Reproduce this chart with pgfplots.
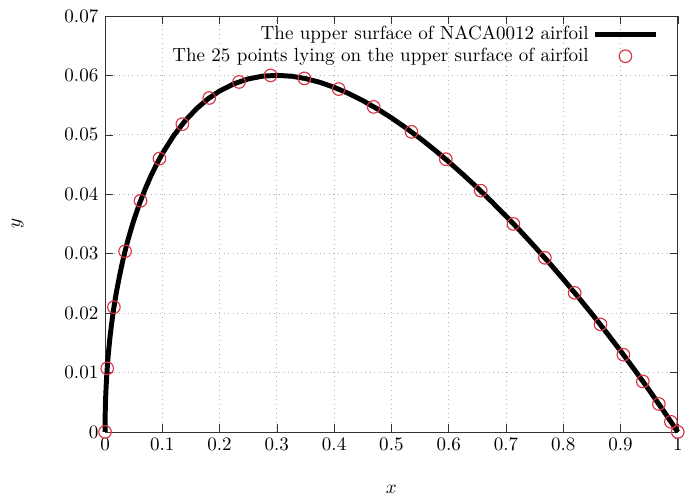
\documentclass[border=0pt]{standalone}
\usepackage{pgfplots}
\pgfplotsset{compat=1.18}

\definecolor{ptred}{RGB}{220,50,70}
\pgfplotsset{
	lineleg/.style={legend image code/.code={\draw[##1] (5pt,0pt) -- (37pt,0pt);}},
	markleg/.style={legend image code/.code={\draw[##1] plot coordinates {(21pt,0pt)};}},
}

\begin{document}
\begin{tikzpicture}
\useasboundingbox (-55.2pt,-34.7pt) rectangle (304.8pt,227pt);
\begin{axis}[
	scale only axis,
	width=301pt, height=218.6pt,
	xmin=0, xmax=1,
	ymin=0, ymax=0.07,
	xtick={0,0.1,0.2,0.3,0.4,0.5,0.6,0.7,0.8,0.9,1},
	ytick={0,0.01,0.02,0.03,0.04,0.05,0.06,0.07},
	scaled y ticks=false,
	yticklabel style={/pgf/number format/fixed, /pgf/number format/precision=2},
	xticklabel style={/pgf/number format/fixed, /pgf/number format/precision=1},
	grid=major,
	grid style={dotted, gray!60},
	axis line style={black!80},
	tick style={black!80},
	xlabel={$x$}, ylabel={$y$},
	x label style={at={(axis description cs:0.5,0)}, anchor=center, yshift=-30.2pt},
	y label style={at={(axis description cs:0,0.5)}, anchor=center, yshift=46pt},
	clip=false,
	legend plot pos=right,
	legend cell align=right,
	legend style={draw=none, fill=none, at={(1,1)}, anchor=north east,
		xshift=-7pt, yshift=-1pt, row sep=-1pt},
	]
% upper surface of the airfoil
\addplot[black, line width=2.6pt, line join=round, lineleg]
	coordinates {
		(0,0) (0.0002,0.00250) (0.0005,0.00395) (0.001,0.00556) (0.002,0.00782)
		(0.003,0.00952) (0.004,0.01096) (0.0055,0.01279) (0.007,0.01437)
		(0.0085,0.01577) (0.01,0.01704) (0.0125,0.01895) (0.015,0.02064)
		(0.0175,0.02218) (0.02,0.02360) (0.025,0.02611) (0.03,0.02840)
		(0.035,0.03043) (0.04,0.03228) (0.045,0.03397) (0.05,0.03555)
		(0.06,0.03838) (0.07,0.04085) (0.08,0.04307) (0.09,0.04504)
		(0.1,0.04683) (0.12,0.04988) (0.14,0.05238)
		(0.16,0.05442) (0.18,0.05607) (0.2,0.05737) (0.225,0.05859)
		(0.25,0.05941) (0.275,0.05987) (0.3,0.06001) (0.325,0.05987)
		(0.35,0.05947) (0.375,0.05884) (0.4,0.05800) (0.425,0.05697)
		(0.45,0.05576) (0.475,0.05439) (0.5,0.05286) (0.525,0.05119)
		(0.55,0.04941) (0.575,0.04750) (0.6,0.04547) (0.625,0.04333)
		(0.65,0.04110) (0.675,0.03876) (0.7,0.03634) (0.725,0.03382)
		(0.75,0.03121) (0.775,0.02851) (0.8,0.02572) (0.825,0.02283)
		(0.85,0.01987) (0.875,0.01680) (0.9,0.01365) (0.925,0.01039)
		(0.95,0.00704) (0.975,0.00357) (1,0)
	};
\addlegendentry{The upper surface of NACA0012 airfoil}
% the 25 points
\addplot[only marks, mark=o, mark size=3.3pt, ptred, mark options={line width=0.6pt}, markleg]
	coordinates {
		(0,0) (0.0038,0.0107) (0.0155,0.0210) (0.035,0.0304) (0.062,0.0389)
		(0.095,0.0460) (0.135,0.0518) (0.182,0.0562) (0.234,0.0589)
		(0.289,0.0600) (0.348,0.0595) (0.408,0.0577) (0.469,0.0547)
		(0.535,0.0505) (0.595,0.0459) (0.656,0.0406) (0.713,0.0350)
		(0.768,0.0293) (0.82,0.0234) (0.865,0.0181) (0.905,0.0130)
		(0.939,0.0085) (0.967,0.0047) (0.988,0.0017) (1,0)
	};
\addlegendentry{The 25 points lying on the upper surface of airfoil}
\end{axis}
\end{tikzpicture}
\end{document}
